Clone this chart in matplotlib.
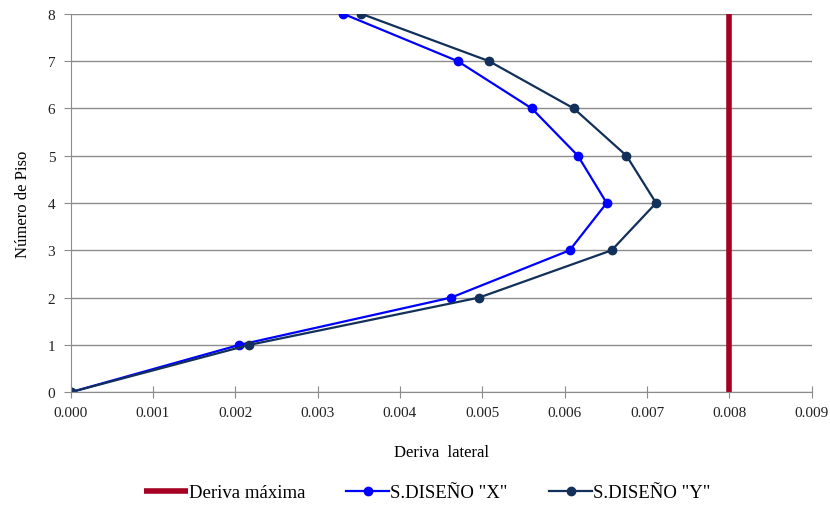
import matplotlib
matplotlib.use("Agg")
import matplotlib.pyplot as plt

pisos = [0, 1, 2, 3, 4, 5, 6, 7, 8]
deriva_x = [0.0, 0.00205, 0.00462, 0.00606, 0.00651, 0.00616, 0.00560, 0.00470, 0.00331]
deriva_y = [0.0, 0.00217, 0.00496, 0.00657, 0.00711, 0.00675, 0.00611, 0.00508, 0.00353]
deriva_max = 0.008
xticks = [0.000, 0.001, 0.002, 0.003, 0.004, 0.005, 0.006, 0.007, 0.008, 0.009]

plt.rcParams["font.family"] = ["Liberation Serif", "DejaVu Serif"]

fig = plt.figure(figsize=(8.3, 5.1), dpi=100)
ax = fig.add_axes([0.085, 0.229, 0.893, 0.742])

ax.plot([deriva_max, deriva_max], [0, 8], color="#A50021", lw=4,
        label="Deriva máxima", solid_capstyle="butt")
ax.plot(deriva_x, pisos, color="#0000FF", lw=1.6, marker="o", ms=6,
        label='S.DISEÑO "X"')
ax.plot(deriva_y, pisos, color="#12305A", lw=1.6, marker="o", ms=6,
        label='S.DISEÑO "Y"')

ax.set_xlim(0, 0.009)
ax.set_ylim(0, 8)
ax.set_xticks(xticks)
ax.set_xticklabels([f"{t:.3f}" for t in xticks])
ax.set_yticks(range(0, 9))
ax.yaxis.grid(True, color="#8C8C8C", lw=1)
ax.set_axisbelow(True)
for s in ["top", "right"]:
    ax.spines[s].set_visible(False)
for s in ["left", "bottom"]:
    ax.spines[s].set_color("#8C8C8C")
ax.tick_params(axis="both", colors="#8C8C8C", labelcolor="#222222",
               labelsize=11, length=5)
ax.tick_params(axis="x", direction="inout", length=8, pad=6)
ax.tick_params(axis="y", pad=6)

ax.set_xlabel("Deriva  lateral", fontsize=12, labelpad=18)
ax.set_ylabel("Número de Piso", fontsize=12, labelpad=12)

fig.legend(loc="center", bbox_to_anchor=(0.515, 0.032), ncol=3,
           frameon=False, fontsize=13.5, handlelength=2.3, columnspacing=2.2,
           handletextpad=0.05)

fig.savefig("out.png", dpi=100)
